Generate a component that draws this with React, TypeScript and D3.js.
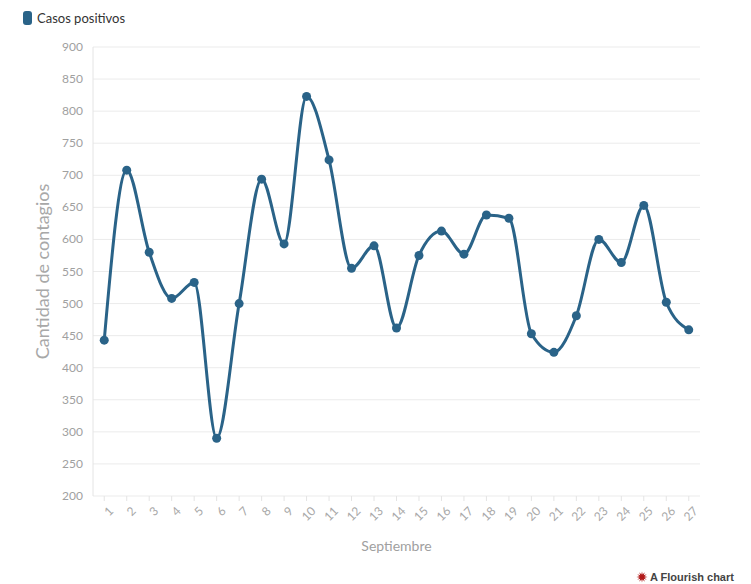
import * as d3 from 'd3';
import React, {useEffect, useRef} from 'react';

const days = ['1', '2', '3', '4', '5', '6', '7', '8', '9', '10', '11', '12', '13', '14',
  '15', '16', '17', '18', '19', '20', '21', '22', '23', '24', '25', '26', '27'];
const casos = [443, 708, 580, 508, 533, 290, 500, 694, 593, 823, 724, 555, 590, 462,
  575, 613, 577, 638, 633, 453, 424, 481, 600, 564, 653, 502, 459];
const yTicks = [200, 250, 300, 350, 400, 450, 500, 550, 600, 650, 700, 750, 800, 850, 900];

const W = 751;
const H = 584;
const FONT = 'Lato, "Open Sans", sans-serif';
const LINE = '#2a6388';

function App() {
  const ref = useRef<SVGSVGElement>(null);

  useEffect(() => {
    const svg = d3.select(ref.current);
    svg.selectAll('*').remove();
    svg.attr('font-family', FONT);

    const left = 93, right = 700, top = 47, bottom = 496;

    const x = d3.scalePoint().domain(days).range([left, right]).padding(0.5);
    const y = d3.scaleLinear().domain([200, 900]).range([bottom, top]);

    // legend
    svg.append('rect').attr('x', 23).attr('y', 11).attr('width', 9).attr('height', 14)
      .attr('rx', 3).attr('fill', LINE);
    svg.append('text').attr('x', 37).attr('y', 23).attr('font-size', 13).attr('fill', '#333')
      .text('Casos positivos');

    // grid
    svg.append('g').selectAll('line').data(yTicks).enter().append('line')
      .attr('x1', left).attr('x2', right)
      .attr('y1', d => y(d)).attr('y2', d => y(d))
      .attr('stroke', '#ebebeb').attr('stroke-width', 1);

    svg.append('line').attr('x1', left).attr('x2', left).attr('y1', top).attr('y2', bottom)
      .attr('stroke', '#e4e4e4');

    // y labels
    svg.append('g').selectAll('text').data(yTicks).enter().append('text')
      .attr('x', 83).attr('y', d => y(d) + 4)
      .attr('text-anchor', 'end').attr('font-size', 12).attr('fill', '#a0a0a0')
      .text(d => d);

    svg.append('text')
      .attr('transform', 'translate(49,' + ((top + bottom) / 2) + ') rotate(-90)')
      .attr('text-anchor', 'middle').attr('font-size', 18).attr('fill', '#a8a8a8')
      .text('Cantidad de contagios');

    // x axis ticks + labels
    const xg = svg.append('g');
    xg.selectAll('line').data(days).enter().append('line')
      .attr('x1', d => x(d)!).attr('x2', d => x(d)!)
      .attr('y1', bottom).attr('y2', bottom + 5)
      .attr('stroke', '#e4e4e4');
    xg.selectAll('text').data(days).enter().append('text')
      .attr('transform', d => 'translate(' + (x(d)! + 4) + ',' + (bottom + 10) + ') rotate(-45)')
      .attr('text-anchor', 'end').attr('dy', '0.7em').attr('font-size', 12).attr('fill', '#a8a8a8')
      .text(d => d);

    svg.append('text').attr('x', (left + right) / 2).attr('y', 551)
      .attr('text-anchor', 'middle').attr('font-size', 14).attr('fill', '#a0a0a0')
      .text('Septiembre');

    // line + dots
    const line = d3.line<number>()
      .x((d, i) => x(days[i])!)
      .y(d => y(d))
      .curve(d3.curveMonotoneX);

    svg.append('path').datum(casos).attr('d', line)
      .attr('fill', 'none').attr('stroke', LINE).attr('stroke-width', 3);

    svg.append('g').selectAll('circle').data(casos).enter().append('circle')
      .attr('cx', (d, i) => x(days[i])!).attr('cy', d => y(d)).attr('r', 4.5)
      .attr('fill', LINE);

    // footer
    const star = d3.lineRadial<number>()
      .angle((d, i) => (i / 24) * Math.PI * 2)
      .radius((d, i) => (i % 2 ? 2.5 : 5.5))
      .curve(d3.curveLinearClosed);
    svg.append('path').attr('transform', 'translate(642,577)')
      .attr('d', star(d3.range(24)))
      .attr('fill', '#b01818');
    svg.append('text').attr('x', 650).attr('y', 581).attr('font-size', 11)
      .attr('font-weight', 'bold').attr('font-family', '"Liberation Sans", Arial, sans-serif')
      .attr('fill', '#444').text('A Flourish chart');
  }, []);

  return (
    <svg ref={ref} width={W} height={H}
      style={{position: 'absolute', left: 0, top: 0, background: '#fff'}} />
  );
}

export default App;
